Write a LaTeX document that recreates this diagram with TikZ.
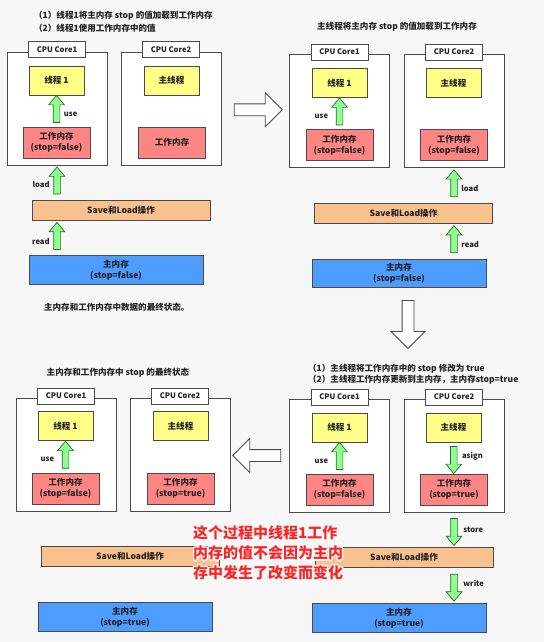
\documentclass[tikz,border=0pt]{standalone}
\usepackage{fontspec}
\setmainfont{Noto Sans CJK SC}
\usepackage{xcolor}
\usepackage{tikz}
\usetikzlibrary{shapes.arrows,positioning}
\definecolor{bgpage}{HTML}{F7F7F7}
\definecolor{frame}{HTML}{4A4A4A}
\definecolor{ink}{HTML}{222222}
\definecolor{thrfill}{HTML}{FFFF88}
\definecolor{wmfill}{HTML}{FF8484}
\definecolor{slfill}{HTML}{F9C18E}
\definecolor{mmfill}{HTML}{4C9DFF}
\definecolor{gafill}{HTML}{8EFF8E}
\definecolor{gadraw}{HTML}{2E6A2E}
\definecolor{warnred}{HTML}{FF2323}
% white rim round the red remark, one line at a time
\newcommand\haloline[1]{\leavevmode\rlap{\color{white}%
  \foreach \hx/\hy in {1.2/0,-1.2/0,0/1.2,0/-1.2,0.85/0.85,-0.85/0.85,0.85/-0.85,-0.85/-0.85}{%
    \rlap{\hspace*{\hx pt}\raisebox{\hy pt}{#1}}}}#1}
\tikzset{
  txt/.style={font=\fontsize{7.3}{9.4}\selectfont\bfseries,text=ink},
  tinytxt/.style={font=\fontsize{6.5}{7.5}\selectfont\bfseries,text=ink},
  core/.style={draw=frame,fill=white,line width=0.8pt,inner sep=0pt,
               minimum width=3cm,minimum height=3.39cm},
  coretab/.style={tinytxt,draw=frame,fill=white,line width=0.8pt,inner sep=0pt,
                  minimum width=1.71cm,minimum height=0.48cm},
  thread/.style={txt,draw=frame,fill=thrfill,line width=0.7pt,inner sep=0pt,
                 minimum width=1.65cm,minimum height=0.87cm},
  workmem/.style={txt,draw=frame,fill=wmfill,line width=0.7pt,inner sep=0pt,
                  align=center,minimum width=2.01cm,minimum height=0.93cm},
  saveload/.style={txt,draw=frame,fill=slfill,line width=0.7pt,inner sep=0pt,
                   minimum width=5.34cm,minimum height=0.6cm},
  mainmem/.style={txt,draw=frame,fill=mmfill,line width=0.7pt,inner sep=0pt,
                  align=center,minimum width=5.22cm,minimum height=0.85cm},
  garrow/.style={single arrow,draw=gadraw,fill=gafill,line width=0.6pt,
                 inner xsep=0pt,inner ysep=0.09cm,
                 minimum height=0.81cm,
                 single arrow head extend=0.135cm,single arrow tip angle=80},
  bigarrow/.style={single arrow,draw=frame,fill=white,line width=0.7pt,
                   inner xsep=0pt,inner ysep=0.165cm,
                   minimum height=1.44cm,
                   single arrow head extend=0.33cm},
  lbl/.style={tinytxt,inner sep=1pt},
}

\begin{document}
\begin{tikzpicture}[x=0.03cm,y=-0.03cm]
  \fill[bgpage] (0,0) rectangle (544,642);
  \useasboundingbox (0,0) rectangle (544,642);

  % Step 1 (top left): thread 1 loads stop and uses it
  \node[txt,anchor=west] (atitle1) at (30,16) {（1）线程1将主内存 stop 的值加载到工作内存};
  \node[txt,anchor=west] (atitle2) at (30,28) {（2）线程1使用工作内存中的值};
  \node[core] (a1) at (57,108.5) {};
  \node[coretab,yshift=0.06cm] (a1tab) at (a1.north) {CPU Core1};
  \node[thread] (a1thr) at (56.5,80.5) {线程 1};
  \node[workmem] (a1wm) at (56.5,142.5) {工作内存\\(stop=false)};
  \node[core] (a2) at (171,108.5) {};
  \node[coretab,yshift=0.06cm] (a2tab) at (a2.north) {CPU Core2};
  \node[thread] (a2thr) at (171.5,80.5) {主线程};
  \node[workmem] (a2wm) at (172,142.5) {工作内存};
  \node[saveload] (asl) at (121,210) {Save和Load操作};
  \node[mainmem] (amm) at (116,270) {主内存\\(stop=false)};
  \path (a1wm.north) -- (a1thr.south) node[midway,garrow,rotate=90] (a1use) {}
    node[pos=0.4,lbl,anchor=west,xshift=0.18cm] (a1uselbl) {use};
  \path (asl.north -| a1) -- (a1.south) node[midway,garrow,rotate=90] (aload) {}
    node[pos=0.43,lbl,anchor=east,xshift=-0.18cm] (aloadlbl) {load};
  \path (amm.north -| a1) -- (asl.south -| a1) node[midway,garrow,rotate=90] (aread) {}
    node[pos=0.4,lbl,anchor=east,xshift=-0.18cm] (areadlbl) {read};
  \node[txt,anchor=west] (anote) at (40,307) {主内存和工作内存中数据的最终状态。};

  % Step 2 (top right): main thread loads stop
  \node[txt] (btitle) at (397,27) {主线程将主内存 stop 的值加载到工作内存};
  \node[core] (b1) at (339.5,111) {};
  \node[coretab,yshift=0.06cm] (b1tab) at (b1.north) {CPU Core1};
  \node[thread] (b1thr) at (339.5,83) {线程 1};
  \node[workmem] (b1wm) at (339.5,145) {工作内存\\(stop=false)};
  \node[core] (b2) at (454,111) {};
  \node[coretab,yshift=0.06cm] (b2tab) at (b2.north) {CPU Core2};
  \node[thread] (b2thr) at (453.5,83) {主线程};
  \node[workmem] (b2wm) at (454,145) {工作内存\\(stop=false)};
  \node[saveload] (bsl) at (403.5,213) {Save和Load操作};
  \node[mainmem] (bmm) at (399,273.5) {主内存\\(stop=false)};
  \path (b1wm.north) -- (b1thr.south) node[midway,garrow,rotate=90] (b1use) {}
    node[pos=0.42,lbl,anchor=east,xshift=-0.3cm] (b1uselbl) {use};
  \path (bsl.north -| b2) -- (b2.south) node[midway,garrow,rotate=90] (bload) {}
    node[pos=0.42,lbl,anchor=west,xshift=0.18cm] (bloadlbl) {load};
  \path (bmm.north -| b2) -- (bsl.south -| b2) node[midway,garrow,rotate=90] (bread) {}
    node[pos=0.4,lbl,anchor=west,xshift=0.18cm] (breadlbl) {read};

  % Step 3 (bottom right): main thread sets stop=true and writes it back
  \node[txt,anchor=west,align=left] (ctitle) at (304,374.5)
    {（1）主线程将工作内存中的 stop 修改为 true\\（2）主线程工作内存更新到主内存，主内存stop=true};
  \node[core] (c1) at (339.5,456) {};
  \node[coretab,yshift=0.06cm] (c1tab) at (c1.north) {CPU Core1};
  \node[thread] (c1thr) at (339.5,427.5) {线程 1};
  \node[workmem] (c1wm) at (339.5,489.5) {工作内存\\(stop=false)};
  \node[core] (c2) at (454,456) {};
  \node[coretab,yshift=0.06cm] (c2tab) at (c2.north) {CPU Core2};
  \node[thread] (c2thr) at (453.5,427.5) {主线程};
  \node[workmem] (c2wm) at (454,489.5) {工作内存\\(stop=true)};
  \node[saveload] (csl) at (404,557.5) {Save和Load操作};
  \node[mainmem] (cmm) at (399,618) {主内存\\(stop=true)};
  \path (c1wm.north) -- (c1thr.south) node[midway,garrow,rotate=90] (c1use) {}
    node[pos=0.4,lbl,anchor=east,xshift=-0.3cm] (c1uselbl) {use};
  \path (c2thr.south) -- (c2wm.north) node[midway,garrow,rotate=-90] (casign) {}
    node[pos=0.44,lbl,anchor=west,xshift=0.21cm] (casignlbl) {asign};
  \path (c2.south) -- (csl.north -| c2) node[midway,garrow,rotate=-90] (cstore) {}
    node[pos=0.49,lbl,anchor=west,xshift=0.24cm] (cstorelbl) {store};
  \path (csl.south -| c2) -- (cmm.north -| c2) node[midway,garrow,rotate=-90] (cwrite) {}
    node[pos=0.43,lbl,anchor=west,xshift=0.24cm] (cwritelbl) {write};

  % Step 4 (bottom left): final state
  \node[txt] (dtitle) at (118,373) {主内存和工作内存中 stop 的最终状态};
  \node[core] (d1) at (66,455) {};
  \node[coretab,yshift=0.06cm] (d1tab) at (d1.north) {CPU Core1};
  \node[thread] (d1thr) at (65.5,426) {线程 1};
  \node[workmem] (d1wm) at (65.5,488.5) {工作内存\\(stop=false)};
  \node[core] (d2) at (180,455) {};
  \node[coretab,yshift=0.06cm] (d2tab) at (d2.north) {CPU Core2};
  \node[thread] (d2thr) at (180.5,426) {主线程};
  \node[workmem] (d2wm) at (180.5,488.5) {工作内存\\(stop=true)};
  \node[saveload] (dsl) at (130,556.5) {Save和Load操作};
  \node[mainmem] (dmm) at (125,617) {主内存\\(stop=true)};
  \path (d1wm.north) -- (d1thr.south) node[midway,garrow,rotate=90] (d1use) {}
    node[pos=0.42,lbl,anchor=east,xshift=-0.3cm] (d1uselbl) {use};

  % Flow between the four steps
  \path (a2.east) -- (b1.west) node[midway,bigarrow] (go1) {};
  \node[bigarrow,rotate=-90] (go2) at (408,321.5) {};
  \path (c1.west) -- (d2.east) node[midway,bigarrow,rotate=180] (go3) {};

  % Remark in red
  \node[anchor=west,align=left,inner sep=0pt,text=warnred,
        font=\fontsize{12.8}{17}\selectfont\bfseries] (remark) at (193,553)
    {\haloline{这个过程中线程1工作}\\\haloline{内存的值不会因为主内}\\\haloline{存中发生了改变而变化}};
\end{tikzpicture}
\end{document}
